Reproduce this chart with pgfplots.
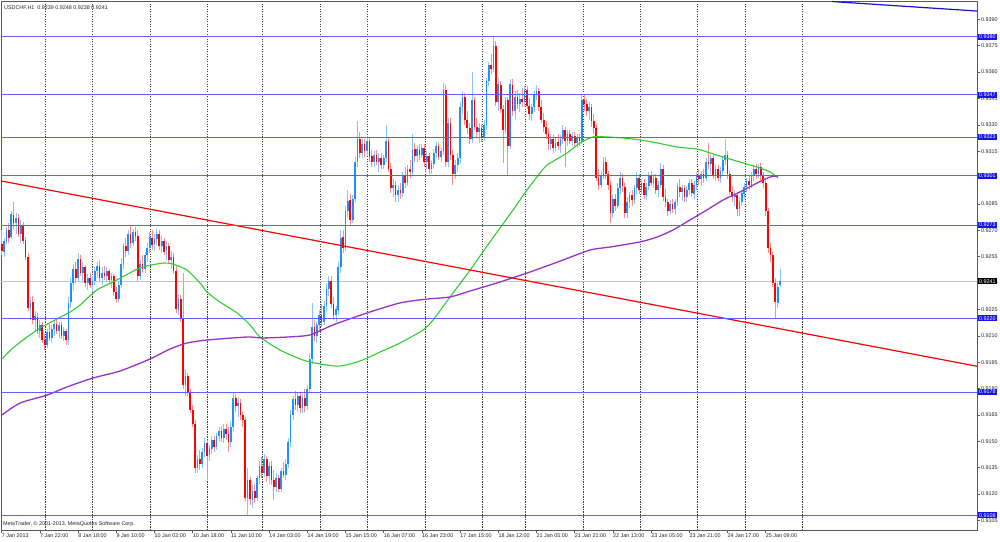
\documentclass[border=0pt]{standalone}
\usepackage{fontspec}
\setmainfont{Liberation Sans}
\usepackage{pgfplots}
\pgfplotsset{compat=1.18}
\usepackage{pgfplotstable}

\definecolor{bull}{RGB}{30,144,255}
\definecolor{bullw}{RGB}{140,195,255}
\definecolor{bear}{RGB}{255,0,0}
\definecolor{bearw}{RGB}{255,140,140}
\definecolor{hline}{RGB}{95,95,255}
\definecolor{hbox}{RGB}{20,20,235}
\definecolor{maG}{RGB}{50,205,50}
\definecolor{maP}{RGB}{153,50,204}
\definecolor{tlb}{RGB}{20,20,200}
\definecolor{bidgrey}{RGB}{195,195,195}

\pgfplotstableread{
i o h l c
0 0.9262 0.9270 0.9256 0.9258
1 0.9258 0.9266 0.9255 0.9264
2 0.9264 0.9272 0.9262 0.9270
3 0.9270 0.9274 0.9263 0.9266
4 0.9266 0.9281 0.9265 0.9279
5 0.9279 0.9286 0.9271 0.9274
6 0.9274 0.9280 0.9268 0.9277
7 0.9277 0.9279 0.9266 0.9268
8 0.9268 0.9276 0.9263 0.9273
9 0.9273 0.9275 0.9262 0.9264
10 0.9264 0.9266 0.9253 0.9255
11 0.9255 0.9257 0.9224 0.9226
12 0.9226 0.9232 0.9219 0.9229
13 0.9229 0.9233 0.9217 0.9219
14 0.9219 0.9224 0.9212 0.9221
15 0.9221 0.9223 0.9211 0.9213
16 0.9213 0.9219 0.9209 0.9216
17 0.9216 0.9218 0.9206 0.9208
18 0.9208 0.9211 0.9202 0.9205
19 0.9205 0.9214 0.9203 0.9212
20 0.9212 0.9217 0.9207 0.9209
21 0.9209 0.9216 0.9206 0.9214
22 0.9214 0.9219 0.9210 0.9217
23 0.9217 0.9219 0.9211 0.9213
24 0.9213 0.9218 0.9209 0.9216
25 0.9216 0.9218 0.9208 0.9210
26 0.9210 0.9215 0.9207 0.9213
27 0.9213 0.9214 0.9205 0.9208
28 0.9208 0.9232 0.9205 0.9229
29 0.9229 0.9243 0.9226 0.9240
30 0.9240 0.9251 0.9236 0.9248
31 0.9248 0.9252 0.9240 0.9243
32 0.9243 0.9257 0.9241 0.9254
33 0.9254 0.9256 0.9244 0.9246
34 0.9246 0.9252 0.9240 0.9249
35 0.9249 0.9250 0.9238 0.9240
36 0.9240 0.9245 0.9236 0.9243
37 0.9243 0.9246 0.9237 0.9239
38 0.9239 0.9244 0.9235 0.9241
39 0.9241 0.9249 0.9239 0.9247
40 0.9247 0.9252 0.9243 0.9250
41 0.9250 0.9253 0.9241 0.9243
42 0.9243 0.9249 0.9239 0.9246
43 0.9246 0.9250 0.9242 0.9244
44 0.9244 0.9249 0.9241 0.9247
45 0.9247 0.9248 0.9240 0.9242
46 0.9242 0.9246 0.9237 0.9244
47 0.9244 0.9245 0.9233 0.9235
48 0.9235 0.9238 0.9229 0.9231
49 0.9231 0.9241 0.9229 0.9239
50 0.9239 0.9254 0.9237 0.9251
51 0.9251 0.9263 0.9248 0.9261
52 0.9261 0.9266 0.9255 0.9258
53 0.9258 0.9270 0.9256 0.9268
54 0.9268 0.9273 0.9260 0.9263
55 0.9263 0.9271 0.9261 0.9269
56 0.9269 0.9272 0.9264 0.9267
57 0.9267 0.9270 0.9241 0.9244
58 0.9244 0.9253 0.9242 0.9251
59 0.9251 0.9256 0.9246 0.9248
60 0.9248 0.9258 0.9246 0.9256
61 0.9256 0.9263 0.9252 0.9260
62 0.9260 0.9269 0.9257 0.9266
63 0.9266 0.9270 0.9259 0.9262
64 0.9262 0.9268 0.9258 0.9265
65 0.9265 0.9271 0.9262 0.9268
66 0.9268 0.9270 0.9259 0.9261
67 0.9261 0.9267 0.9257 0.9264
68 0.9264 0.9266 0.9256 0.9258
69 0.9258 0.9264 0.9253 0.9261
70 0.9261 0.9263 0.9251 0.9253
71 0.9253 0.9258 0.9248 0.9255
72 0.9255 0.9257 0.9245 0.9247
73 0.9247 0.9250 0.9223 0.9225
74 0.9225 0.9234 0.9222 0.9231
75 0.9231 0.9233 0.9218 0.9220
76 0.9220 0.9246 0.9180 0.9182
77 0.9182 0.9191 0.9176 0.9187
78 0.9187 0.9189 0.9176 0.9178
79 0.9178 0.9180 0.9166 0.9168
80 0.9168 0.9171 0.9158 0.9160
81 0.9160 0.9162 0.9132 0.9135
82 0.9135 0.9142 0.9132 0.9140
83 0.9140 0.9145 0.9134 0.9137
84 0.9137 0.9146 0.9135 0.9144
85 0.9144 0.9152 0.9141 0.9149
86 0.9149 0.9151 0.9128 0.9142
87 0.9142 0.9148 0.9139 0.9146
88 0.9146 0.9153 0.9143 0.9151
89 0.9151 0.9153 0.9144 0.9147
90 0.9147 0.9155 0.9145 0.9153
91 0.9153 0.9158 0.9150 0.9156
92 0.9156 0.9159 0.9150 0.9152
93 0.9152 0.9160 0.9149 0.9157
94 0.9157 0.9160 0.9151 0.9154
95 0.9154 0.9158 0.9144 0.9150
96 0.9150 0.9161 0.9147 0.9158
97 0.9158 0.9178 0.9156 0.9175
98 0.9175 0.9177 0.9167 0.9170
99 0.9170 0.9175 0.9164 0.9172
100 0.9172 0.9174 0.9162 0.9165
101 0.9165 0.9167 0.9158 0.9162
102 0.9162 0.9164 0.9116 0.9118
103 0.9118 0.9135 0.9108 0.9128
104 0.9128 0.9130 0.9114 0.9117
105 0.9117 0.9125 0.9112 0.9122
106 0.9122 0.9126 0.9115 0.9118
107 0.9118 0.9131 0.9116 0.9129
108 0.9129 0.9139 0.9126 0.9136
109 0.9136 0.9141 0.9129 0.9132
110 0.9132 0.9143 0.9130 0.9140
111 0.9140 0.9142 0.9127 0.9130
112 0.9130 0.9138 0.9126 0.9136
113 0.9136 0.9139 0.9125 0.9128
114 0.9128 0.9134 0.9117 0.9124
115 0.9124 0.9132 0.9121 0.9129
116 0.9129 0.9131 0.9121 0.9123
117 0.9123 0.9135 0.9121 0.9133
118 0.9133 0.9138 0.9129 0.9131
119 0.9131 0.9140 0.9128 0.9137
120 0.9137 0.9152 0.9135 0.9150
121 0.9150 0.9168 0.9147 0.9165
122 0.9165 0.9176 0.9162 0.9174
123 0.9174 0.9179 0.9168 0.9171
124 0.9171 0.9178 0.9167 0.9176
125 0.9176 0.9178 0.9166 0.9169
126 0.9169 0.9177 0.9166 0.9175
127 0.9175 0.9180 0.9167 0.9170
128 0.9170 0.9182 0.9168 0.9180
129 0.9180 0.9200 0.9178 0.9197
130 0.9197 0.9229 0.9194 0.9215
131 0.9215 0.9219 0.9207 0.9210
132 0.9210 0.9218 0.9206 0.9216
133 0.9216 0.9225 0.9213 0.9222
134 0.9222 0.9228 0.9215 0.9218
135 0.9218 0.9230 0.9216 0.9227
136 0.9227 0.9240 0.9224 0.9237
137 0.9237 0.9244 0.9233 0.9241
138 0.9241 0.9244 0.9226 0.9228
139 0.9228 0.9232 0.9219 0.9222
140 0.9222 0.9227 0.9218 0.9225
141 0.9225 0.9252 0.9222 0.9249
142 0.9249 0.9270 0.9246 0.9266
143 0.9266 0.9270 0.9257 0.9260
144 0.9260 0.9284 0.9258 0.9281
145 0.9281 0.9293 0.9277 0.9287
146 0.9287 0.9291 0.9273 0.9276
147 0.9276 0.9290 0.9274 0.9288
148 0.9288 0.9312 0.9286 0.9309
149 0.9309 0.9332 0.9306 0.9322
150 0.9322 0.9326 0.9311 0.9314
151 0.9314 0.9322 0.9311 0.9319
152 0.9319 0.9322 0.9312 0.9315
153 0.9315 0.9324 0.9313 0.9321
154 0.9321 0.9323 0.9309 0.9312
155 0.9312 0.9316 0.9306 0.9309
156 0.9309 0.9315 0.9306 0.9313
157 0.9313 0.9316 0.9307 0.9309
158 0.9309 0.9314 0.9303 0.9311
159 0.9311 0.9314 0.9305 0.9307
160 0.9307 0.9313 0.9305 0.9311
161 0.9311 0.9330 0.9309 0.9321
162 0.9321 0.9323 0.9303 0.9305
163 0.9305 0.9308 0.9291 0.9294
164 0.9294 0.9299 0.9289 0.9296
165 0.9296 0.9298 0.9286 0.9290
166 0.9290 0.9296 0.9286 0.9293
167 0.9293 0.9297 0.9288 0.9291
168 0.9291 0.9303 0.9289 0.9301
169 0.9301 0.9306 0.9294 0.9297
170 0.9297 0.9307 0.9295 0.9305
171 0.9305 0.9310 0.9300 0.9303
172 0.9303 0.9325 0.9301 0.9316
173 0.9316 0.9320 0.9309 0.9312
174 0.9312 0.9318 0.9309 0.9316
175 0.9316 0.9319 0.9310 0.9313
176 0.9313 0.9319 0.9311 0.9317
177 0.9317 0.9319 0.9306 0.9309
178 0.9309 0.9315 0.9305 0.9312
179 0.9312 0.9314 0.9302 0.9305
180 0.9305 0.9310 0.9302 0.9308
181 0.9308 0.9316 0.9305 0.9314
182 0.9314 0.9320 0.9311 0.9318
183 0.9318 0.9320 0.9310 0.9312
184 0.9312 0.9317 0.9309 0.9315
185 0.9315 0.9354 0.9313 0.9350
186 0.9350 0.9353 0.9306 0.9309
187 0.9309 0.9334 0.9306 0.9331
188 0.9331 0.9334 0.9310 0.9313
189 0.9313 0.9316 0.9296 0.9302
190 0.9302 0.9310 0.9299 0.9307
191 0.9307 0.9314 0.9303 0.9311
192 0.9311 0.9343 0.9308 0.9340
193 0.9340 0.9349 0.9336 0.9346
194 0.9346 0.9348 0.9330 0.9333
195 0.9333 0.9338 0.9325 0.9328
196 0.9328 0.9331 0.9319 0.9322
197 0.9322 0.9360 0.9320 0.9344
198 0.9344 0.9346 0.9327 0.9329
199 0.9329 0.9334 0.9323 0.9326
200 0.9326 0.9331 0.9320 0.9328
201 0.9328 0.9330 0.9320 0.9323
202 0.9323 0.9333 0.9321 0.9330
203 0.9330 0.9357 0.9327 0.9355
204 0.9355 0.9366 0.9352 0.9364
205 0.9364 0.9370 0.9359 0.9362
206 0.9362 0.9380 0.9360 0.9375
207 0.9375 0.9378 0.9341 0.9343
208 0.9343 0.9357 0.9338 0.9353
209 0.9353 0.9355 0.9337 0.9339
210 0.9339 0.9341 0.9308 0.9327
211 0.9327 0.9346 0.9325 0.9344
212 0.9344 0.9346 0.9301 0.9318
213 0.9318 0.9356 0.9316 0.9353
214 0.9353 0.9356 0.9335 0.9338
215 0.9338 0.9349 0.9333 0.9346
216 0.9346 0.9350 0.9339 0.9342
217 0.9342 0.9348 0.9337 0.9345
218 0.9345 0.9351 0.9340 0.9343
219 0.9343 0.9352 0.9340 0.9350
220 0.9350 0.9352 0.9339 0.9341
221 0.9341 0.9345 0.9333 0.9336
222 0.9336 0.9342 0.9332 0.9340
223 0.9340 0.9349 0.9337 0.9347
224 0.9347 0.9353 0.9344 0.9349
225 0.9349 0.9351 0.9338 0.9340
226 0.9340 0.9344 0.9331 0.9333
227 0.9333 0.9337 0.9326 0.9329
228 0.9329 0.9332 0.9322 0.9325
229 0.9325 0.9328 0.9316 0.9319
230 0.9319 0.9325 0.9316 0.9322
231 0.9322 0.9324 0.9314 0.9317
232 0.9317 0.9323 0.9315 0.9320
233 0.9320 0.9325 0.9316 0.9318
234 0.9318 0.9324 0.9314 0.9322
235 0.9322 0.9330 0.9319 0.9327
236 0.9327 0.9329 0.9306 0.9321
237 0.9321 0.9327 0.9318 0.9325
238 0.9325 0.9327 0.9319 0.9321
239 0.9321 0.9326 0.9318 0.9324
240 0.9324 0.9326 0.9318 0.9320
241 0.9320 0.9325 0.9317 0.9323
242 0.9323 0.9325 0.9318 0.9321
243 0.9321 0.9347 0.9319 0.9344
244 0.9344 0.9347 0.9338 0.9342
245 0.9342 0.9345 0.9335 0.9338
246 0.9338 0.9343 0.9333 0.9340
247 0.9340 0.9342 0.9329 0.9332
248 0.9332 0.9336 0.9325 0.9328
249 0.9328 0.9330 0.9298 0.9300
250 0.9300 0.9305 0.9293 0.9296
251 0.9296 0.9304 0.9294 0.9301
252 0.9301 0.9312 0.9299 0.9309
253 0.9309 0.9312 0.9299 0.9302
254 0.9302 0.9304 0.9293 0.9296
255 0.9296 0.9298 0.9274 0.9280
256 0.9280 0.9291 0.9277 0.9288
257 0.9288 0.9291 0.9281 0.9284
258 0.9284 0.9297 0.9282 0.9294
259 0.9294 0.9303 0.9291 0.9300
260 0.9300 0.9302 0.9292 0.9295
261 0.9295 0.9297 0.9277 0.9280
262 0.9280 0.9289 0.9277 0.9286
263 0.9286 0.9292 0.9283 0.9290
264 0.9290 0.9293 0.9284 0.9287
265 0.9287 0.9296 0.9285 0.9294
266 0.9294 0.9303 0.9291 0.9300
267 0.9300 0.9302 0.9291 0.9293
268 0.9293 0.9299 0.9290 0.9297
269 0.9297 0.9299 0.9288 0.9290
270 0.9290 0.9297 0.9287 0.9295
271 0.9295 0.9303 0.9293 0.9301
272 0.9301 0.9304 0.9295 0.9297
273 0.9297 0.9302 0.9294 0.9300
274 0.9300 0.9302 0.9291 0.9293
275 0.9293 0.9298 0.9289 0.9296
276 0.9296 0.9308 0.9294 0.9305
277 0.9305 0.9307 0.9287 0.9289
278 0.9289 0.9294 0.9283 0.9286
279 0.9286 0.9288 0.9278 0.9281
280 0.9281 0.9287 0.9279 0.9285
281 0.9285 0.9288 0.9280 0.9282
282 0.9282 0.9288 0.9279 0.9286
283 0.9286 0.9297 0.9284 0.9295
284 0.9295 0.9299 0.9289 0.9292
285 0.9292 0.9296 0.9287 0.9294
286 0.9294 0.9296 0.9286 0.9289
287 0.9289 0.9295 0.9286 0.9293
288 0.9293 0.9299 0.9290 0.9297
289 0.9297 0.9299 0.9289 0.9291
290 0.9291 0.9298 0.9288 0.9296
291 0.9296 0.9303 0.9293 0.9301
292 0.9301 0.9305 0.9296 0.9299
293 0.9299 0.9304 0.9295 0.9302
294 0.9302 0.9305 0.9297 0.9300
295 0.9300 0.9311 0.9298 0.9309
296 0.9309 0.9320 0.9305 0.9308
297 0.9308 0.9313 0.9302 0.9311
298 0.9311 0.9313 0.9299 0.9301
299 0.9301 0.9307 0.9298 0.9305
300 0.9305 0.9307 0.9298 0.9300
301 0.9300 0.9306 0.9297 0.9304
302 0.9304 0.9312 0.9301 0.9310
303 0.9310 0.9322 0.9307 0.9313
304 0.9313 0.9315 0.9299 0.9302
305 0.9302 0.9304 0.9290 0.9292
306 0.9292 0.9295 0.9286 0.9289
307 0.9289 0.9293 0.9284 0.9290
308 0.9290 0.9292 0.9278 0.9282
309 0.9282 0.9289 0.9278 0.9286
310 0.9286 0.9293 0.9284 0.9291
311 0.9291 0.9297 0.9288 0.9295
312 0.9295 0.9300 0.9292 0.9298
313 0.9298 0.9301 0.9293 0.9296
314 0.9296 0.9303 0.9294 0.9301
315 0.9301 0.9307 0.9298 0.9305
316 0.9305 0.9308 0.9299 0.9302
317 0.9302 0.9308 0.9300 0.9306
318 0.9306 0.9308 0.9298 0.9301
319 0.9301 0.9303 0.9294 0.9297
320 0.9297 0.9299 0.9278 0.9281
321 0.9281 0.9283 0.9257 0.9260
322 0.9260 0.9263 0.9252 0.9256
323 0.9256 0.9258 0.9238 0.9240
324 0.9240 0.9243 0.9220 0.9229
325 0.9229 0.9240 0.9226 0.9238
326 0.9239 0.9248 0.9238 0.9241
}\candles

\begin{document}
\begin{tikzpicture}[font=\fontsize{5.4}{6}\selectfont]
\useasboundingbox[fill=white] (0,0) rectangle (1000pt,541pt);
\begin{axis}[
  at={(1pt,11pt)}, anchor=south west,
  scale only axis, width=976pt, height=529pt,
  xmin=-0.293, xmax=408.5, ymin=0.909957, ymax=0.940041,
  clip mode=individual,
  axis line style={draw=black!65, line width=0.8pt},
  xtick pos=bottom, ytick pos=right, yticklabel pos=right,
  tick align=outside, major tick length=3pt,
  tick style={draw=black!65, line width=0.6pt},
  /pgf/number format/assume math mode=true,
  scaled y ticks=false,
  tick label style={font=\fontsize{5.4}{6}\selectfont, text=black!85},
  ytick={0.9105,0.9120,0.9135,0.9150,0.9165,0.9180,0.9195,0.9210,0.9225,0.9240,0.9255,0.9270,0.9285,0.9300,0.9315,0.9330,0.9345,0.9360,0.9375,0.9390},
  yticklabel={\pgfmathprintnumber[fixed,fixed zerofill,precision=4]{\tick}},
  yticklabel style={anchor=west, inner sep=0.8pt},
  xtick={0,16,32,48,64,80,96,112,128,144,160,176,192,208,224,240,256,272,288,304,320},
  xticklabels={7 Jan 2013,7 Jan 22:00,8 Jan 18:00,9 Jan 10:00,10 Jan 02:00,10 Jan 18:00,11 Jan 10:00,14 Jan 03:00,14 Jan 19:00,15 Jan 15:00,16 Jan 07:00,16 Jan 23:00,17 Jan 15:00,18 Jan 12:00,21 Jan 05:00,21 Jan 21:00,22 Jan 13:00,23 Jan 05:00,23 Jan 21:00,24 Jan 17:00,25 Jan 09:00},
  xticklabel style={anchor=north west, inner sep=0.8pt, xshift=-0.8pt},
  extra x ticks={18.1,38.1,62.1,86.3,109.2,133.3,153.3,177.3,201.3,219.5,243.4,267.4,291.4,311.3,335.2},
  extra x tick labels={},
  extra x tick style={grid=major, major tick length=0pt},
  major grid style={black!75, line width=0.6pt, dash pattern=on 1.2pt off 1.3pt},
]
% bid line
\addplot[bidgrey, line width=0.8pt] coordinates {(-0.293,0.9241) (408.5,0.9241)};
% candles: wicks and bodies
\addplot[draw=none, mark=none, restrict expr to domain={\thisrow{c}-\thisrow{o}}{0:1},
  error bars/.cd, y dir=both, y explicit, error mark=none,
  error bar style={draw=bullw, line width=0.9pt}]
  table[x=i, y expr={(\thisrow{h}+\thisrow{l})/2}, y error expr={(\thisrow{h}-\thisrow{l})/2}] {\candles};
\addplot[draw=none, mark=none, restrict expr to domain={\thisrow{c}-\thisrow{o}}{-1:-0.00001},
  error bars/.cd, y dir=both, y explicit, error mark=none,
  error bar style={draw=bearw, line width=0.9pt}]
  table[x=i, y expr={(\thisrow{h}+\thisrow{l})/2}, y error expr={(\thisrow{h}-\thisrow{l})/2}] {\candles};
\addplot[draw=none, mark=none, restrict expr to domain={\thisrow{c}-\thisrow{o}}{0:1},
  error bars/.cd, y dir=both, y explicit, error mark=none,
  error bar style={draw=bull, line width=1.7pt}]
  table[x=i, y expr={(\thisrow{o}+\thisrow{c})/2}, y error expr={(\thisrow{c}-\thisrow{o})/2}] {\candles};
\addplot[draw=none, mark=none, restrict expr to domain={\thisrow{c}-\thisrow{o}}{-1:-0.00001},
  error bars/.cd, y dir=both, y explicit, error mark=none,
  error bar style={draw=bear, line width=1.7pt}]
  table[x=i, y expr={(\thisrow{o}+\thisrow{c})/2}, y error expr={(\thisrow{o}-\thisrow{c})/2}] {\candles};
% moving averages
\addplot[maG, line width=1.1pt, smooth, tension=0.4] coordinates {
(0.1,0.91968) (4.7,0.92031) (10.6,0.92093) (16.0,0.92144) (21.5,0.92184) (28.6,0.92235) (32.8,0.92275) (39.9,0.92361) (46.6,0.92406) (57.9,0.92486) (67.6,0.92514) (71.7,0.92508) (77.6,0.92474) (83.1,0.92400) (86.0,0.92349) (91.4,0.92292) (98.6,0.92230) (104.0,0.92162) (108.2,0.92093) (116.6,0.92019) (126.2,0.91962) (133.3,0.91940) (141.7,0.91928) (150.1,0.91957) (158.5,0.92008) (166.8,0.92059) (176.5,0.92133) (180.7,0.92190) (187.8,0.92321) (196.2,0.92474) (204.5,0.92634) (214.2,0.92816) (220.0,0.92929) (225.5,0.93026) (228.4,0.93071) (236.8,0.93140) (242.2,0.93197) (247.7,0.93231) (253.5,0.93231) (260.2,0.93225) (267.4,0.93214) (274.5,0.93197) (282.9,0.93174) (291.2,0.93162) (296.7,0.93140) (302.1,0.93117) (310.5,0.93083) (316.4,0.93060) (321.8,0.93032) (325.2,0.92998)};
\addplot[maP, line width=1.3pt, smooth, tension=0.4] coordinates {
(0.1,0.91650) (7.7,0.91718) (19.0,0.91763) (27.3,0.91809) (38.2,0.91860) (49.6,0.91900) (62.1,0.91968) (70.5,0.92025) (77.6,0.92059) (86.0,0.92076) (102.7,0.92093) (109.4,0.92088) (119.5,0.92093) (129.1,0.92105) (138.8,0.92162) (153.0,0.92230) (166.8,0.92287) (178.1,0.92309) (187.8,0.92321) (196.2,0.92355) (208.7,0.92406) (221.3,0.92463) (233.9,0.92525) (246.4,0.92588) (254.8,0.92605) (267.4,0.92634) (274.5,0.92662) (281.2,0.92702) (288.3,0.92759) (295.4,0.92816) (302.1,0.92872) (309.2,0.92918) (316.4,0.92969) (321.8,0.93003) (325.2,0.93009)};
% trend lines
\addplot[bear, line width=1.2pt] coordinates {(-0.712,0.92982) (408.5,0.91927)};
\addplot[tlb, line width=1.2pt] coordinates {(347.8,0.94001) (408.5,0.93947)};
% horizontal levels
\foreach \lv in {0.9380,0.9347,0.9323,0.9301,0.9273,0.9220,0.9178,0.9108}{
  \edef\temp{\noexpand\addplot[hline, line width=1pt] coordinates {(-0.293,\lv) (408.5,\lv)};}
  \temp
}
% price boxes
\foreach \lv in {0.9380,0.9347,0.9323,0.9301,0.9273,0.9220,0.9178,0.9108}{
  \edef\temp{\noexpand\node[fill=hbox, text=white, inner xsep=1pt, inner ysep=0.9pt, anchor=west, xshift=1pt] at (axis cs:408.5,\lv) {\lv};}
  \temp
}
\node[fill=black, text=white, inner xsep=1pt, inner ysep=0.9pt, anchor=west, xshift=1pt] at (axis cs:408.5,0.9241) {0.9241};
\node[anchor=west, text=black!85, inner sep=0pt] at (axis description cs:0.003,0.987) {USDCHF,H1\ \ 0.9239 0.9248 0.9238 0.9241};
\node[anchor=west, text=black!85, inner sep=0pt] at (axis description cs:0.002,0.0105) {MetaTrader, © 2001-2013, MetaQuotes Software Corp.};
\end{axis}
\end{tikzpicture}
\end{document}
